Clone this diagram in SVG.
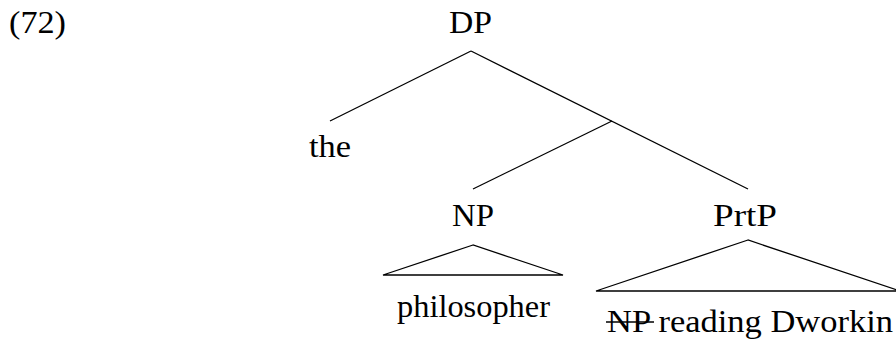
<svg xmlns="http://www.w3.org/2000/svg" width="896" height="339" viewBox="0 0 896 339">
<style>
.e{stroke:#000;stroke-width:1.3;fill:none}
.t{font-family:"Liberation Serif","DejaVu Serif",serif;font-size:31px;fill:#000}
</style>
<rect width="896" height="339" fill="#fff"/>
<text class="t" x="9" y="33" textLength="57" lengthAdjust="spacingAndGlyphs">(72)</text>
<g id="connectors">
<line class="e" x1="471" y1="51" x2="330" y2="121"/>
<line class="e" x1="471" y1="51" x2="748" y2="189"/>
<line class="e" x1="612" y1="121" x2="473" y2="189"/>
</g>
<g id="DP"><text class="t" x="449" y="33" textLength="43" lengthAdjust="spacingAndGlyphs">DP</text></g>
<g id="the"><text class="t" x="309" y="157" textLength="42" lengthAdjust="spacingAndGlyphs">the</text></g>
<g id="NP">
<text class="t" x="452" y="226" textLength="42" lengthAdjust="spacingAndGlyphs">NP</text>
<polygon class="e" points="473,245 383,275 563,275"/>
</g>
<g id="PrtP">
<text class="t" x="713" y="226" textLength="64" lengthAdjust="spacingAndGlyphs">PrtP</text>
<polygon class="e" points="748,240 596,291 900,291"/>
</g>
<g id="philosopher"><text class="t" x="397" y="317" textLength="153" lengthAdjust="spacingAndGlyphs">philosopher</text></g>
<g id="reading">
<text class="t" x="607" y="332" textLength="286" lengthAdjust="spacingAndGlyphs">NP reading Dworkin</text>
<line x1="606" y1="322" x2="654" y2="322" stroke="#000" stroke-width="1.3"/>
</g>
</svg>
